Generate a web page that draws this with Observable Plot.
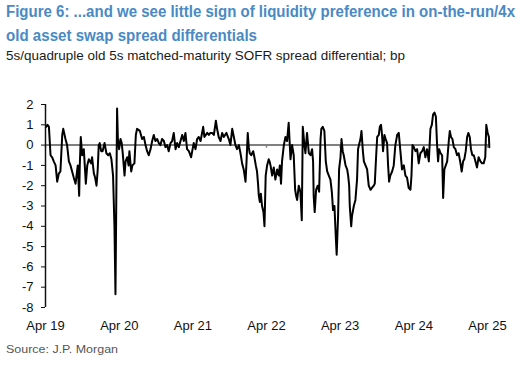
<!DOCTYPE html>
<html>
<head>
<meta charset="utf-8">
<script src="https://cdn.jsdelivr.net/npm/d3@7"></script>
<script src="https://cdn.jsdelivr.net/npm/@observablehq/plot@0.6"></script>
<style>
  html, body { margin: 0; padding: 0; background: #fff; }
  body { width: 525px; height: 373px; position: relative; overflow: hidden; font-family: Arial, "Liberation Sans", sans-serif; }
  .txt { position: absolute; left: 6px; white-space: nowrap; transform-origin: 0 0; line-height: 1; }
  .title { font-weight: bold; font-size: 16.3px; color: #4a8ac4; }
  .sub { font-size: 13px; color: #1a1a1a; top: 48.5px; }
  .src { font-size: 11px; color: #555; top: 343.5px; }
  #chart { position: absolute; left: 0; top: 80px; }
</style>
</head>
<body>
<div class="txt title" id="t1" style="top:3.2px" data-w="509">Figure 6: ...and we see little sign of liquidity preference in on-the-run/4x</div>
<div class="txt title" id="t2" style="top:26.5px" data-w="251">old asset swap spread differentials</div>
<div class="txt sub" id="sub" data-w="399">5s/quadruple old 5s matched-maturity SOFR spread differential; bp</div>
<div id="chart"></div>
<div class="txt src" id="src" data-w="112">Source: J.P. Morgan</div>
<script>
const dates = [
"2019-04-04","2019-04-11","2019-04-18","2019-04-26","2019-05-04","2019-05-12","2019-05-21","2019-05-29","2019-06-06","2019-06-14",
"2019-06-23","2019-06-28","2019-07-09","2019-07-17","2019-07-26","2019-08-03","2019-08-11","2019-08-19","2019-08-28","2019-09-02",
"2019-09-08","2019-09-15","2019-09-18","2019-09-23","2019-09-30","2019-10-08","2019-10-18","2019-10-25","2019-11-02","2019-11-13",
"2019-11-18","2019-11-27","2019-12-03","2019-12-10","2019-12-16","2019-12-21","2019-12-26","2020-01-02","2020-01-09","2020-01-19",
"2020-01-28","2020-02-06","2020-02-14","2020-02-22","2020-03-01","2020-03-08","2020-03-13","2020-03-21","2020-03-25","2020-03-31",
"2020-04-07","2020-04-13","2020-04-18","2020-04-27","2020-05-02","2020-05-10","2020-05-17","2020-05-21","2020-05-30","2020-06-05",
"2020-06-15","2020-06-22","2020-06-28","2020-07-12","2020-07-23","2020-08-01","2020-08-09","2020-08-17","2020-08-25","2020-09-03",
"2020-09-11","2020-09-19","2020-09-27","2020-10-06","2020-10-14","2020-10-22","2020-10-30","2020-11-08","2020-11-16","2020-11-24",
"2020-12-02","2020-12-11","2020-12-19","2020-12-27","2021-01-05","2021-01-13","2021-01-21","2021-02-07","2021-02-15","2021-02-23",
"2021-03-03","2021-03-12","2021-03-23","2021-04-05","2021-04-14","2021-04-22","2021-04-30","2021-05-09","2021-05-22","2021-05-28",
"2021-06-11","2021-06-19","2021-06-27","2021-07-05","2021-07-14","2021-07-24","2021-07-30","2021-08-07","2021-08-16","2021-08-24",
"2021-09-01","2021-09-14","2021-09-26","2021-10-04","2021-10-13","2021-10-21","2021-10-29","2021-11-06","2021-11-15","2021-11-23",
"2021-12-01","2021-12-09","2021-12-18","2021-12-23","2021-12-29","2022-01-03","2022-01-08","2022-01-15","2022-01-25","2022-01-31",
"2022-02-07","2022-02-13","2022-02-18","2022-02-22","2022-02-27","2022-03-04","2022-03-10","2022-03-17","2022-03-22","2022-03-28",
"2022-04-04","2022-04-12","2022-04-16","2022-04-21","2022-04-29","2022-05-07","2022-05-15","2022-05-24","2022-06-01","2022-06-06",
"2022-06-12","2022-06-17","2022-06-26","2022-07-04","2022-07-12","2022-07-20","2022-07-29","2022-08-06","2022-08-14","2022-08-21",
"2022-08-26","2022-08-31","2022-09-08","2022-09-16","2022-09-23","2022-09-28","2022-10-06","2022-10-11","2022-10-19","2022-10-28",
"2022-11-05","2022-11-13","2022-11-18","2022-11-21","2022-11-26","2022-12-03","2022-12-11","2022-12-18","2022-12-25","2022-12-29",
"2023-01-05","2023-01-13","2023-01-20","2023-01-27","2023-02-04","2023-02-12","2023-02-19","2023-02-25","2023-03-04","2023-03-11",
"2023-03-15","2023-03-22","2023-03-27","2023-04-03","2023-04-08","2023-04-14","2023-04-19","2023-04-28","2023-05-06","2023-05-11",
"2023-05-16","2023-05-19","2023-05-26","2023-05-30","2023-06-08","2023-06-16","2023-06-24","2023-06-29","2023-07-06","2023-07-11",
"2023-07-16","2023-07-23","2023-07-28","2023-08-05","2023-08-13","2023-08-21","2023-08-30","2023-09-07","2023-09-15","2023-09-20",
"2023-09-27","2023-10-02","2023-10-10","2023-10-15","2023-10-21","2023-10-26","2023-10-31","2023-11-07","2023-11-13","2023-11-20",
"2023-11-25","2023-11-30","2023-12-06","2023-12-15","2023-12-23","2023-12-31","2024-01-09","2024-01-17","2024-01-25","2024-02-02",
"2024-02-11","2024-02-19","2024-02-27","2024-03-06","2024-03-15","2024-03-20","2024-03-25","2024-03-31","2024-04-09","2024-04-17",
"2024-04-25","2024-05-03","2024-05-12","2024-05-20","2024-05-28","2024-06-05","2024-06-14","2024-06-22","2024-06-29","2024-07-05",
"2024-07-12","2024-07-19","2024-07-25","2024-07-30","2024-08-04","2024-08-11","2024-08-19","2024-08-24","2024-08-30","2024-09-06",
"2024-09-13","2024-09-21","2024-09-26","2024-10-02","2024-10-09","2024-10-16","2024-10-24","2024-11-01","2024-11-09","2024-11-18",
"2024-11-24","2024-12-01","2024-12-07","2024-12-14","2024-12-21","2024-12-27","2025-01-03","2025-01-09","2025-01-16","2025-01-23",
"2025-01-31","2025-02-08","2025-02-16","2025-02-25","2025-03-05","2025-03-13","2025-03-21","2025-03-26","2025-04-02","2025-04-08",
"2025-04-10"
];
const values = [
0.9,1.0,0.9,-0.5,-0.6,-0.8,-1.0,-1.8,-1.4,-1.3,
0.5,0.8,0.3,0.0,-0.8,-1.0,-1.3,-1.6,-1.9,-1.5,
-1.0,-2.5,-1.0,0.4,-0.5,-0.2,-1.9,-1.0,-0.7,-0.9,
-0.6,-1.4,-1.6,-2.0,-1.2,0.0,0.1,-0.3,-0.3,0.1,
-0.4,-0.5,-0.4,-0.7,-1.5,-4.0,-7.35,1.8,0.3,-0.2,
0.3,0.1,-0.4,-1.5,-0.8,-0.6,-1.0,-0.3,-1.3,-1.0,
-0.9,0.5,0.8,0.7,0.3,0.4,0.0,-0.3,-0.5,-0.2,
0.2,0.5,0.2,0.3,0.1,0.0,0.3,0.2,-0.1,0.0,
-0.3,0.1,0.2,0.6,-0.2,0.1,-0.1,0.5,0.2,0.6,
-0.2,-0.3,-0.6,0.1,-0.2,0.3,0.4,0.2,0.9,0.4,
0.6,0.5,0.6,0.6,0.5,1.2,0.8,0.4,0.2,0.6,
0.4,0.6,0.3,0.0,0.8,0.4,0.0,-0.2,0.0,-0.4,
-0.9,-1.2,-1.8,-0.8,0.6,-0.1,-0.4,-0.5,-0.3,-0.6,
-1.0,-1.3,-1.9,-2.5,-2.8,-2.4,-3.0,-3.3,-4.0,-1.5,
-1.0,-0.7,-0.8,-1.0,-1.5,-1.1,-1.7,-1.2,-1.5,-1.0,
-1.9,-0.8,0.0,0.4,0.2,1.1,-0.7,0.0,-0.5,-2.2,
-2.5,-2.7,-2.0,-2.3,-3.7,0.9,0.0,-0.4,0.6,-0.4,
-0.5,-0.2,-0.8,-2.5,-3.3,-2.2,-2.0,-2.3,0.3,0.8,
0.9,0.7,-0.8,-1.3,-1.5,-1.7,-2.3,-3.2,-3.0,-4.6,
-5.4,-3.5,-1.2,-0.6,0.3,-0.3,-0.5,-1.0,-1.2,-1.5,
-2.0,-3.0,-4.0,-3.5,-3.0,-2.7,-1.7,-0.2,0.1,0.3,
0.7,-0.3,-0.8,-1.0,-1.2,-2.0,-2.2,-2.1,-2.0,-1.9,
-0.5,0.4,0.5,0.9,1.0,0.5,-0.3,0.5,0.3,0.1,
-1.0,-1.8,-1.5,-1.3,-1.0,0.0,0.5,0.6,-0.3,-1.2,
-1.0,-1.5,-1.6,-2.1,-2.2,-1.5,0.0,-0.1,-0.3,-0.2,
-0.9,-0.4,-0.3,-0.1,-0.6,-0.2,-0.8,0.8,1.0,1.5,
1.6,1.4,0.0,-0.8,-0.2,-0.4,-0.5,-2.6,-1.2,-1.0,
-0.8,0.2,0.7,0.4,0.3,-0.1,-0.2,-0.5,-0.4,-0.9,
-1.3,-0.8,-0.7,-0.3,0.4,0.6,0.4,-0.2,-0.5,-0.5,
-0.8,-1.1,-0.6,-0.8,-0.9,-0.9,-0.6,1.0,0.6,0.4,
-0.1
];
const yTicks = [2, 1, 0, -1, -2, -3, -4, -5, -6, -7, -8];
const xTickDates = ["2019-04-01","2020-04-01","2021-04-01","2022-04-01","2023-04-01","2024-04-01","2025-04-01"];
const xTickLabels = ["Apr 19","Apr 20","Apr 21","Apr 22","Apr 23","Apr 24","Apr 25"];

const parse = d3.utcParse("%Y-%m-%d");
const data = dates.map((d, i) => ({date: parse(d), value: values[i]}));
const tickDates = xTickDates.map(parse);
const labelFor = d => xTickLabels[tickDates.findIndex(t => +t === +d)] ?? "";

const chart = Plot.plot({
  width: 525,
  height: 260,
  marginLeft: 45,
  marginRight: 38,
  marginTop: 24,
  marginBottom: 33,
  style: {fontFamily: 'Arial, "Liberation Sans", sans-serif', fontSize: "13px", color: "#111", background: "transparent", overflow: "visible"},
  x: {type: "utc", domain: [tickDates[0], tickDates[tickDates.length - 1]], ticks: tickDates, tickFormat: labelFor, tickSize: 0, tickPadding: 13, label: null},
  y: {domain: [-8, 2], ticks: yTicks, tickFormat: d => String(d), tickSize: 4, tickPadding: 8, label: null},
  marks: [
    Plot.ruleY([0], {x1: tickDates[0], x2: data[data.length - 1].date, stroke: "#808080", strokeWidth: 2}),
    Plot.ruleX(tickDates, {y1: 0, y2: -0.15, stroke: "#808080", strokeWidth: 1.5}),
    Plot.lineY(data, {x: "date", y: "value", stroke: "#000", strokeWidth: 2, strokeLinejoin: "round"}),
    Plot.ruleX([tickDates[0]], {y1: -8, y2: 2, stroke: "#111", strokeWidth: 1.5})
  ]
});
document.getElementById("chart").appendChild(chart);

// fit text lines to the reference widths
document.querySelectorAll(".txt").forEach(el => {
  const target = +el.dataset.w;
  const w = el.getBoundingClientRect().width;
  if (w > 0) el.style.transform = `scaleX(${target / w})`;
});
</script>
</body>
</html>
